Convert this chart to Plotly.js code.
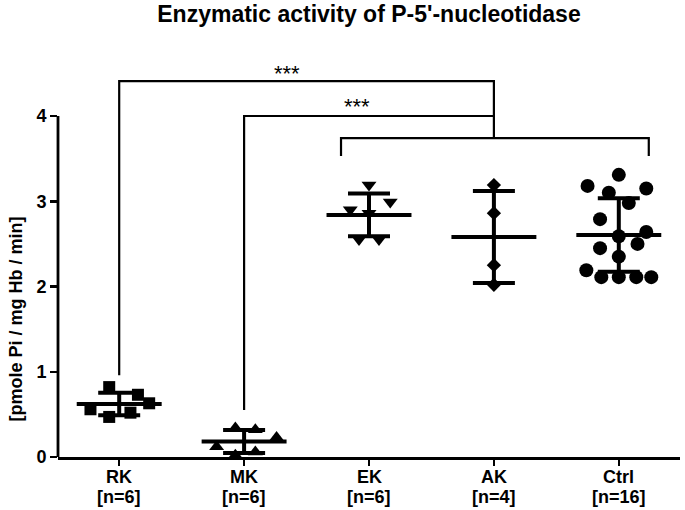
<!DOCTYPE html>
<html><head><meta charset="utf-8">
<script src="https://cdn.plot.ly/plotly-3.0.1.min.js"></script>
<style>html,body{margin:0;padding:0;background:#fff}#chart{width:685px;height:510px}</style>
</head><body><div id="chart"></div>
<script>
// ---- data ----
const categories = ["RK", "MK", "EK", "AK", "Ctrl"];
const groupSizes = ["[n=6]", "[n=6]", "[n=6]", "[n=4]", "[n=16]"];
const rkValues = [0.82, 0.73, 0.63, 0.56, 0.47, 0.52];
const mkValues = [0.34, 0.32, 0.23, 0.12, 0.02, 0.06];
const ekValues = [3.19, 2.99, 2.90, 2.86, 2.55, 2.55];
const akValues = [3.19, 2.86, 2.25, 2.02];
const ctrlValues = [3.31, 3.18, 3.15, 3.10, 2.98, 2.79, 2.64, 2.59, 2.45, 2.50, 2.35, 2.19, 2.11, 2.11, 2.11, 2.11];
// horizontal scatter spread of each point (category units)
const rkJitter = [-0.08, 0.15, 0.24, -0.23, -0.08, 0.09];
const mkJitter = [-0.07, 0.09, 0.26, -0.22, -0.07, 0.09];
const ekJitter = [0, 0.17, -0.15, 0, -0.08, 0.08];
const akJitter = [0, 0, 0, 0];
const ctrlJitter = [0, -0.25, 0.22, -0.08, 0.08, -0.15, 0.22, 0, -0.15, 0.15, 0, -0.26, -0.14, 0, 0.14, 0.26];
const yTickVals = [0, 1, 2, 3, 4];
const significance = ["***", "***"];

const groups = [
  {vals: rkValues, jit: rkJitter, sym: "square", size: 12},
  {vals: mkValues, jit: mkJitter, sym: "triangle-up", size: 13},
  {vals: ekValues, jit: ekJitter, sym: "triangle-down", size: 13},
  {vals: akValues, jit: akJitter, sym: "diamond", size: 11},
  {vals: ctrlValues, jit: ctrlJitter, sym: "circle", size: 14}
];
function mean(a){return a.reduce((s,v)=>s+v,0)/a.length;}
function sd(a){const m=mean(a);return Math.sqrt(a.reduce((s,v)=>s+(v-m)*(v-m),0)/(a.length-1));}

const traces = [];
groups.forEach((g, i) => {
  traces.push({
    type: "scatter", mode: "markers", cliponaxis: false, showlegend: false,
    x: g.vals.map((v, k) => i + g.jit[k]), y: g.vals,
    marker: {symbol: g.sym, size: g.size, color: "#000", line: {width: 0}},
    hoverinfo: "skip"
  });
});
traces.push({
  type: "scatter", mode: "markers", cliponaxis: false, showlegend: false,
  x: groups.map((g, i) => i), y: groups.map(g => mean(g.vals)),
  marker: {size: 1, color: "rgba(0,0,0,0)"},
  error_x: {type: "constant", value: 0.34, width: 0, thickness: 4, color: "#000"},
  error_y: {type: "data", array: groups.map(g => sd(g.vals)), width: 21, thickness: 4, color: "#000"},
  hoverinfo: "skip"
});

const yTop = 4.657;
const ln = {color: "#000", width: 2.2};
const shapes = [
  {type: "path", xref: "x", yref: "y", path: "M0,0.96 L0,4.41 L3,4.41 L3,3.74", line: ln},
  {type: "path", xref: "x", yref: "y", path: "M1,0.55 L1,4.0 L3,4.0", line: ln},
  {type: "path", xref: "x", yref: "y", path: "M1.776,3.53 L1.776,3.74 L4.24,3.74 L4.24,3.53", line: ln},
  {type: "line", xref: "paper", yref: "paper", x0: 0, x1: 0, y0: 0, y1: 4 / yTop, line: {color: "#000", width: 2.8}}
];

const annotations = [
  {text: "<b>[pmole Pi / mg Hb / min]</b>", xref: "paper", yref: "y", x: -0.068, y: 1.62, textangle: -90, showarrow: false, font: {size: 18, color: "#000"}, xanchor: "center", yanchor: "middle"},
  {text: significance[0], xref: "x", yref: "y", x: 1.34, y: 4.5, showarrow: false, font: {size: 22, color: "#000"}},
  {text: significance[1], xref: "x", yref: "y", x: 1.9, y: 4.11, showarrow: false, font: {size: 22, color: "#000"}}
];
categories.forEach((c, i) => {
  annotations.push({text: "<b>" + c + "</b>", xref: "x", yref: "paper", x: i, y: 0, yanchor: "middle", yshift: -20, showarrow: false, font: {size: 18, color: "#000"}});
  annotations.push({text: "<b>" + groupSizes[i] + "</b>", xref: "x", yref: "paper", x: i, y: 0, yanchor: "middle", yshift: -40, showarrow: false, font: {size: 18, color: "#000"}});
});

const layout = {
  width: 685, height: 510,
  margin: {l: 58, r: 5, t: 60, b: 53},
  paper_bgcolor: "#fff", plot_bgcolor: "#fff",
  font: {family: "Liberation Sans, Arial, sans-serif", color: "#000"},
  title: {text: "<b>Enzymatic activity of P-5'-nucleotidase</b>", font: {size: 23, color: "#000"}, xref: "paper", x: 0.5, xanchor: "center", yref: "container", y: 0.988, yanchor: "top"},
  xaxis: {
    range: [-0.49, 4.49], tickvals: [0,1,2,3,4], showticklabels: false,
    showgrid: false, zeroline: false, showline: true, linecolor: "#000", linewidth: 2.8,
    ticks: "outside", ticklen: 6, tickwidth: 2.5, tickcolor: "#000", fixedrange: true
  },
  yaxis: {
    range: [0, yTop], tickvals: yTickVals, ticktext: yTickVals.map(v => "<b>" + v + "</b>"),
    showgrid: false, zeroline: false, showline: false,
    ticks: "outside", ticklen: 7, tickwidth: 2.5, tickcolor: "#000",
    tickfont: {size: 18, color: "#000"}, fixedrange: true
  },
  shapes: shapes,
  annotations: annotations
};
Plotly.newPlot("chart", traces, layout, {displayModeBar: false, staticPlot: true});
</script></body></html>
